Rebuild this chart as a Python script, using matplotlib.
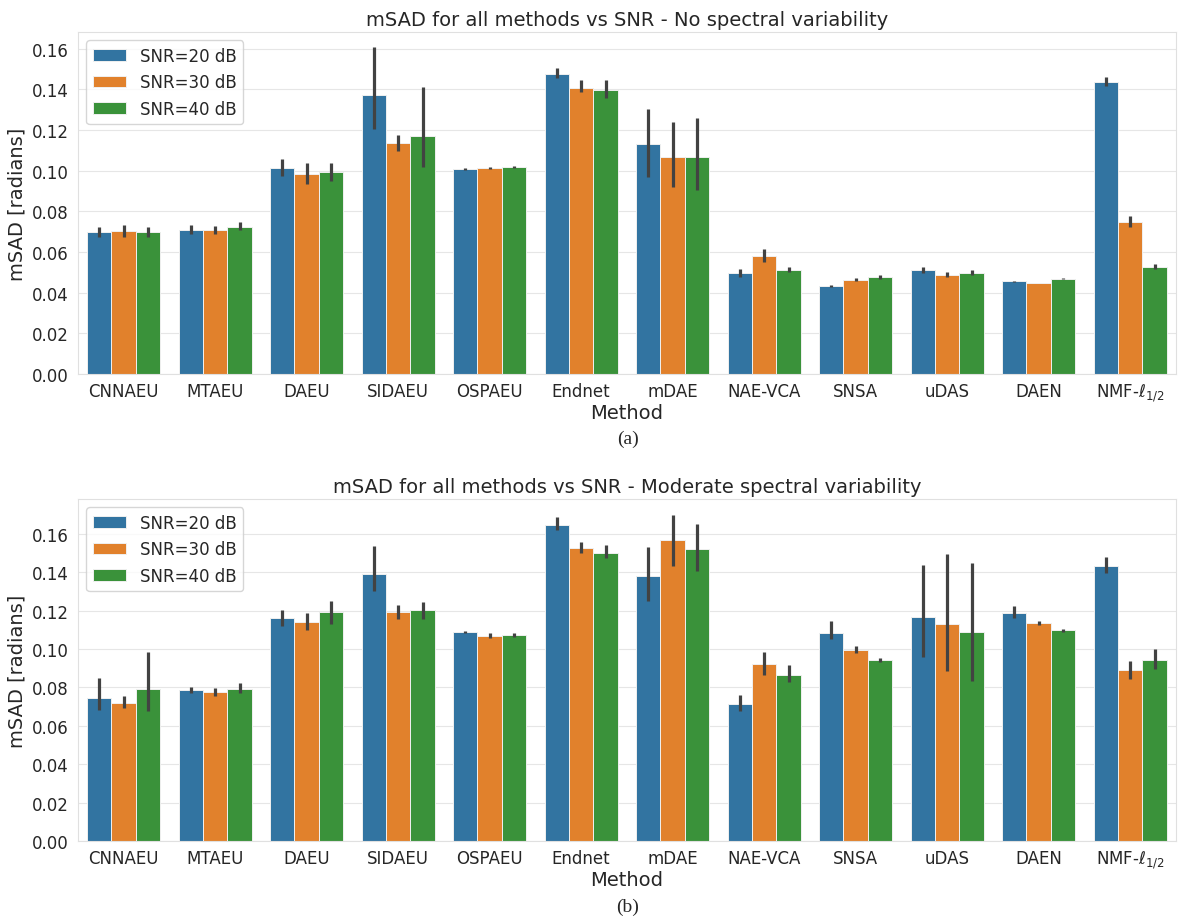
import numpy as np
import seaborn as sns
import matplotlib.pyplot as plt

methods = ["CNNAEU", "MTAEU", "DAEU", "SIDAEU", "OSPAEU", "Endnet", "mDAE",
           "NAE-VCA", "SNSA", "uDAS", "DAEN", r"NMF-$\ell_{1/2}$"]
snr_labels = ["SNR=20 dB", "SNR=30 dB", "SNR=40 dB"]

# no spectral variability: mean mSAD and CI bounds per SNR level
none_mean = [
    [0.0697, 0.0709, 0.1014, 0.1370, 0.1009, 0.1474, 0.1131, 0.0496, 0.0433, 0.0510, 0.0456, 0.1436],
    [0.0701, 0.0709, 0.0985, 0.1134, 0.1014, 0.1408, 0.1068, 0.0581, 0.0461, 0.0487, 0.0448, 0.0747],
    [0.0697, 0.0724, 0.0993, 0.1173, 0.1017, 0.1398, 0.1068, 0.0512, 0.0476, 0.0496, 0.0468, 0.0527],
]
none_lo = [
    [0.0673, 0.0688, 0.0976, 0.1206, 0.1004, 0.1457, 0.0968, 0.0476, 0.0428, 0.0497, 0.0454, 0.1416],
    [0.0676, 0.0690, 0.0935, 0.1096, 0.1007, 0.1387, 0.0919, 0.0550, 0.0455, 0.0479, 0.0446, 0.0722],
    [0.0672, 0.0707, 0.0947, 0.1017, 0.1012, 0.1357, 0.0907, 0.0500, 0.0468, 0.0486, 0.0466, 0.0515],
]
none_hi = [
    [0.0725, 0.0733, 0.1058, 0.1608, 0.1014, 0.1505, 0.1305, 0.0514, 0.0439, 0.0527, 0.0458, 0.1459],
    [0.0733, 0.0729, 0.1037, 0.1177, 0.1020, 0.1444, 0.1239, 0.0615, 0.0471, 0.0500, 0.0450, 0.0779],
    [0.0725, 0.0747, 0.1037, 0.1411, 0.1022, 0.1444, 0.1260, 0.0527, 0.0487, 0.0510, 0.0470, 0.0542],
]

# moderate spectral variability
mod_mean = [
    [0.0745, 0.0787, 0.1161, 0.1392, 0.1089, 0.1648, 0.1383, 0.0716, 0.1085, 0.1167, 0.1187, 0.1432],
    [0.0719, 0.0775, 0.1139, 0.1193, 0.1070, 0.1525, 0.1569, 0.0920, 0.0995, 0.1130, 0.1137, 0.0889],
    [0.0794, 0.0794, 0.1191, 0.1203, 0.1073, 0.1501, 0.1522, 0.0867, 0.0943, 0.1089, 0.1097, 0.0945],
]
mod_lo = [
    [0.0681, 0.0771, 0.1120, 0.1305, 0.1082, 0.1622, 0.1253, 0.0678, 0.1050, 0.0957, 0.1163, 0.1397],
    [0.0693, 0.0755, 0.1099, 0.1158, 0.1060, 0.1503, 0.1435, 0.0867, 0.0981, 0.0884, 0.1128, 0.0846],
    [0.0676, 0.0772, 0.1132, 0.1158, 0.1064, 0.1475, 0.1406, 0.0827, 0.0934, 0.0832, 0.1087, 0.0894],
]
mod_hi = [
    [0.0849, 0.0804, 0.1205, 0.1539, 0.1096, 0.1687, 0.1534, 0.0759, 0.1144, 0.1439, 0.1222, 0.1479],
    [0.0756, 0.0798, 0.1186, 0.1232, 0.1083, 0.1557, 0.1700, 0.0985, 0.1014, 0.1496, 0.1146, 0.0936],
    [0.0985, 0.0821, 0.1253, 0.1245, 0.1082, 0.1544, 0.1652, 0.0919, 0.0955, 0.1451, 0.1107, 0.0998],
]

sns.set_style("whitegrid", {"grid.color": "#e6e6e6", "axes.edgecolor": "#e0e0e0"})
plt.rcParams['font.family'] = ['DejaVu Sans']

colors = ["#3274a1", "#e1812c", "#3a923a"]


def draw_panel(ax, mean, lo, hi, title, ymax):
    x = np.arange(len(methods))
    w = 0.8 / 3
    for i in range(3):
        m = np.array(mean[i])
        err = np.vstack([m - np.array(lo[i]), np.array(hi[i]) - m])
        ax.bar(x + (i - 1) * w, m, width=w, color=colors[i], edgecolor="#f0f0f0",
               linewidth=0.7, label=snr_labels[i], zorder=2,
               yerr=err, error_kw=dict(ecolor="#424242", elinewidth=2.3, capsize=0, zorder=3))
    ax.set_xticks(x)
    ax.set_xticklabels(methods, fontsize=12)
    ax.set_xlim(-0.5, len(methods) - 0.5)
    ax.set_ylim(0, ymax)
    ax.set_yticks(np.arange(0, 0.17, 0.02))
    ax.yaxis.set_major_formatter(plt.FuncFormatter(lambda v, p: f"{v:.2f}"))
    ax.tick_params(axis="y", labelsize=12, pad=3)
    ax.tick_params(axis="x", pad=2)
    ax.set_title(title, fontsize=14, color=".15", pad=5)
    ax.set_xlabel("Method", fontsize=14, color=".15", labelpad=0)
    ax.set_ylabel("mSAD [radians]", fontsize=14, color=".15")
    ax.legend(loc="upper left", fontsize=12)
    ax.grid(axis="x", visible=False)
    ax.set_axisbelow(True)


fig = plt.figure(figsize=(11.81, 9.2), dpi=100)
ax1 = fig.add_axes([0.066, 0.5924, 0.9297, 0.3717])
ax2 = fig.add_axes([0.066, 0.0848, 0.9297, 0.3717])

draw_panel(ax1, none_mean, none_lo, none_hi,
           "mSAD for all methods vs SNR - No spectral variability", 0.1682)
draw_panel(ax2, mod_mean, mod_lo, mod_hi,
           "mSAD for all methods vs SNR - Moderate spectral variability", 0.1782)

fig.text(0.5314, 0.522, "(a)", ha="center", va="center", fontsize=14, family="Liberation Serif")
fig.text(0.5314, 0.014, "(b)", ha="center", va="center", fontsize=14, family="Liberation Serif")

fig.savefig("out.png", dpi=100)
